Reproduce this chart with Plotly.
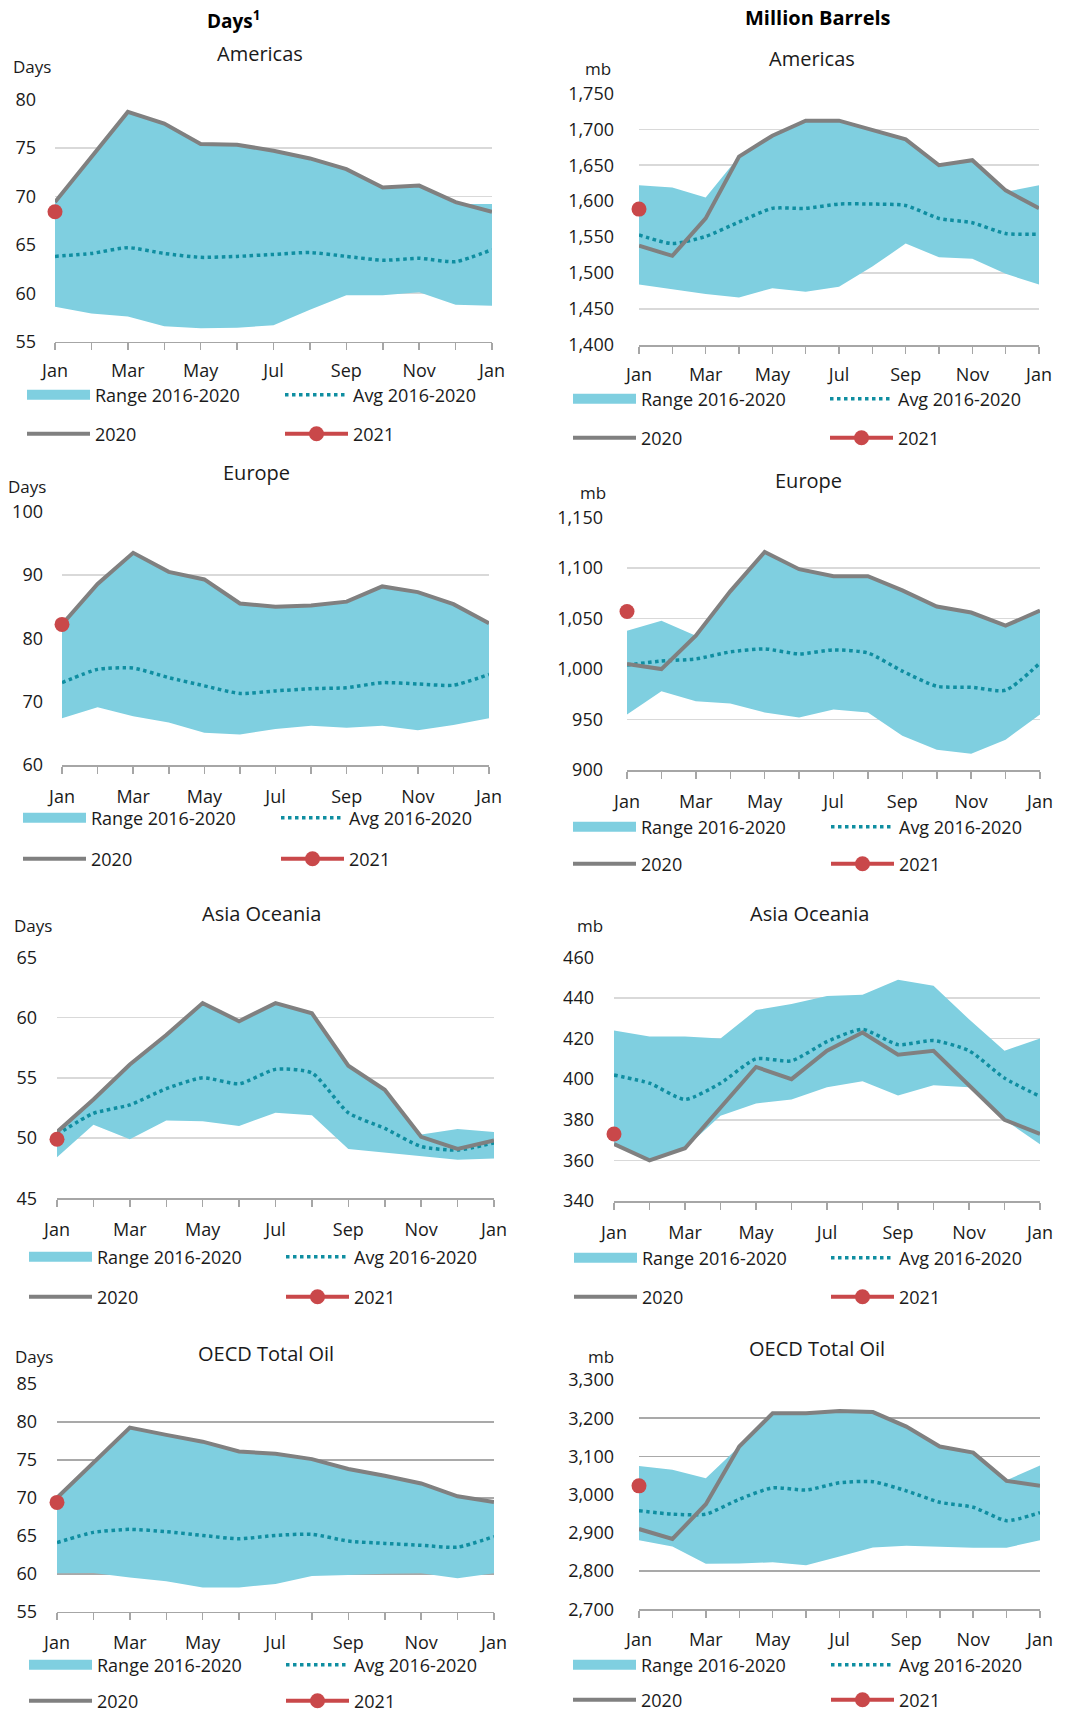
import plotly.graph_objects as go

W, H = 1075, 1712

months = ["Jan", "Feb", "Mar", "Apr", "May", "Jun", "Jul", "Aug", "Sep", "Oct", "Nov", "Dec", "Jan"]

# ---- Days: Americas ----
am_days_hi = [69.4, 74.1, 78.7, 77.5, 75.4, 75.3, 74.7, 73.9, 72.8, 70.9, 71.1, 69.2, 69.2]
am_days_lo = [58.6, 57.9, 57.6, 56.6, 56.4, 56.45, 56.7, 58.3, 59.8, 59.8, 60.1, 58.8, 58.7]
am_days_avg = [63.8, 64.1, 64.7, 64.1, 63.7, 63.8, 64.0, 64.2, 63.8, 63.4, 63.6, 63.25, 64.5]
am_days_2020 = [69.4, 74.1, 78.7, 77.5, 75.4, 75.3, 74.7, 73.9, 72.8, 70.9, 71.1, 69.4, 68.4]
am_days_2021 = [68.4]

# ---- mb: Americas ----
am_mb_hi = [1622, 1619, 1605, 1662, 1691, 1712, 1712, 1699, 1686, 1650, 1657, 1613, 1622]
am_mb_lo = [1484, 1477, 1471, 1466, 1479, 1474, 1481, 1509, 1541, 1522, 1520, 1499, 1484]
am_mb_avg = [1553, 1541, 1551, 1571, 1590, 1590, 1596, 1596, 1594, 1576, 1570, 1555, 1554]
am_mb_2020 = [1538, 1524, 1576, 1662, 1691, 1712, 1712, 1699, 1686, 1650, 1657, 1615, 1590]
am_mb_2021 = [1589]

# ---- Days: Europe ----
eu_days_hi = [82.2, 88.6, 93.5, 90.5, 89.3, 85.5, 85.0, 85.2, 85.8, 88.2, 87.3, 85.4, 82.4]
eu_days_lo = [67.4, 69.1, 67.7, 66.7, 65.1, 64.8, 65.7, 66.2, 65.9, 66.2, 65.5, 66.3, 67.4]
eu_days_avg = [73.0, 75.1, 75.3, 73.8, 72.5, 71.3, 71.7, 72.05, 72.2, 73.0, 72.8, 72.6, 74.3]
eu_days_2020 = [82.2, 88.6, 93.5, 90.5, 89.3, 85.5, 85.0, 85.2, 85.8, 88.2, 87.3, 85.4, 82.4]
eu_days_2021 = [82.2]

# ---- mb: Europe ----
eu_mb_hi = [1038, 1048, 1033, 1077, 1116, 1099, 1092, 1092, 1078, 1062, 1056, 1043, 1058]
eu_mb_lo = [955, 978, 968, 966, 957, 952, 960, 957, 934, 920, 916, 930, 955]
eu_mb_avg = [1004, 1008, 1010, 1017, 1020, 1015, 1019, 1016, 998, 983, 982, 979, 1006]
eu_mb_2020 = [1005, 1000, 1033, 1077, 1116, 1099, 1092, 1092, 1078, 1062, 1056, 1043, 1058]
eu_mb_2021 = [1057]

# ---- Days: Asia Oceania ----
as_days_hi = [50.5, 53.2, 56.1, 58.55, 61.2, 59.7, 61.2, 60.35, 56.0, 54.0, 50.3, 50.75, 50.5]
as_days_lo = [48.4, 51.1, 49.9, 51.45, 51.4, 51.0, 52.1, 51.9, 49.1, 48.8, 48.5, 48.2, 48.3]
as_days_avg = [50.3, 52.05, 52.75, 54.1, 55.0, 54.5, 55.7, 55.4, 52.1, 50.8, 49.3, 49.0, 49.6]
as_days_2020 = [50.5, 53.2, 56.1, 58.55, 61.2, 59.7, 61.2, 60.35, 56.0, 54.0, 50.1, 49.1, 49.8]
as_days_2021 = [49.9]

# ---- mb: Asia Oceania ----
as_mb_hi = [424, 421, 421, 420, 434, 437, 441, 441.5, 449, 446, 429.5, 414, 420]
as_mb_lo = [368, 360, 366, 382, 388, 390, 396, 399, 392, 397, 396, 380, 368]
as_mb_avg = [402, 398, 390, 398, 410, 409, 418.5, 424.5, 417, 419, 414, 400.5, 391.5]
as_mb_2020 = [368, 360, 366, 386, 406, 400, 414, 423, 412, 414, 397, 380, 373]
as_mb_2021 = [373]

# ---- Days: OECD Total Oil ----
oe_days_hi = [70.0, 74.6, 79.25, 78.3, 77.4, 76.1, 75.8, 75.1, 73.8, 72.9, 71.9, 70.2, 69.3]
oe_days_lo = [60.05, 60.1, 59.5, 59.0, 58.2, 58.2, 58.65, 59.7, 59.85, 60.0, 60.05, 59.4, 60.05]
oe_days_avg = [64.1, 65.45, 65.85, 65.55, 65.05, 64.6, 65.05, 65.2, 64.3, 64.0, 63.75, 63.5, 64.9]
oe_days_2020 = [70.0, 74.6, 79.25, 78.3, 77.4, 76.1, 75.8, 75.1, 73.8, 72.9, 71.9, 70.2, 69.45]
oe_days_2021 = [69.4]

# ---- mb: OECD Total Oil ----
oe_mb_hi = [3075, 3065, 3043, 3126, 3213, 3213, 3219, 3216, 3178, 3126, 3110, 3038, 3076]
oe_mb_lo = [2881, 2864, 2819, 2820, 2823, 2815, 2838, 2862, 2866, 2863, 2861, 2861, 2881]
oe_mb_avg = [2958, 2949, 2949, 2988, 3018, 3012, 3031, 3034, 3010, 2980, 2967, 2932, 2953]
oe_mb_2020 = [2910, 2884, 2975, 3126, 3213, 3213, 3219, 3216, 3178, 3126, 3110, 3036, 3023]
oe_mb_2021 = [3023]

FONT = "Open Sans"
TXT = "#1a1a1a"
C_RANGE = "#7fcfe0"
C_AVG = "#0f8ea1"
C_2020 = "#808080"
C_2021 = "#c9484a"
GRID_LIGHT = "#d9d9d9"
GRID_DARK = "#a9a9a9"

panels = [
    dict(title="Americas", unit="Days", hi=am_days_hi, lo=am_days_lo, avg=am_days_avg, y20=am_days_2020, y21=am_days_2021,
         yr=[55, 80], dt=5, fmt="", box=(55, 492, 99.3, 341.7), title_xy=(260, 53), unit_xy=(32, 67),
         leg=(27, 285, 395, 434), so=18, xso=5, grid=GRID_LIGHT),
    dict(title="Americas", unit="mb", hi=am_mb_hi, lo=am_mb_lo, avg=am_mb_avg, y20=am_mb_2020, y21=am_mb_2021,
         yr=[1400, 1750], dt=50, fmt=",", box=(639, 1039, 93.3, 345), title_xy=(812, 59), unit_xy=(598, 68),
         leg=(573, 830, 399, 438), so=24, xso=6, grid=GRID_LIGHT),
    dict(title="Europe", unit="Days", hi=eu_days_hi, lo=eu_days_lo, avg=eu_days_avg, y20=eu_days_2020, y21=eu_days_2021,
         yr=[60, 100], dt=10, fmt="", box=(62, 489, 511.7, 765), title_xy=(256, 473), unit_xy=(27, 486),
         leg=(23, 281, 818, 859), so=18, xso=8, grid=GRID_LIGHT),
    dict(title="Europe", unit="mb", hi=eu_mb_hi, lo=eu_mb_lo, avg=eu_mb_avg, y20=eu_mb_2020, y21=eu_mb_2021,
         yr=[900, 1150], dt=50, fmt=",", box=(627, 1040, 517.7, 770), title_xy=(808, 480), unit_xy=(593, 492),
         leg=(573, 831, 827, 864), so=23, xso=8, grid=GRID_LIGHT),
    dict(title="Asia Oceania", unit="Days", hi=as_days_hi, lo=as_days_lo, avg=as_days_avg, y20=as_days_2020, y21=as_days_2021,
         yr=[45, 65], dt=5, fmt="", box=(57, 494, 957.3, 1198.3), title_xy=(261, 913), unit_xy=(33, 925),
         leg=(29, 286, 1257, 1297), so=19, xso=8, grid=GRID_LIGHT),
    dict(title="Asia Oceania", unit="mb", hi=as_mb_hi, lo=as_mb_lo, avg=as_mb_avg, y20=as_mb_2020, y21=as_mb_2021,
         yr=[340, 460], dt=20, fmt="", box=(614, 1040, 957.3, 1201), title_xy=(809, 913), unit_xy=(590, 925),
         leg=(574, 831, 1258, 1297), so=19, xso=8, grid=GRID_LIGHT),
    dict(title="OECD Total Oil", unit="Days", hi=oe_days_hi, lo=oe_days_lo, avg=oe_days_avg, y20=oe_days_2020, y21=oe_days_2021,
         yr=[55, 85], dt=5, fmt="", box=(57, 494, 1384, 1611.7), title_xy=(266, 1353), unit_xy=(34, 1356),
         leg=(29, 286, 1665, 1701), so=19, xso=7, grid=GRID_DARK),
    dict(title="OECD Total Oil", unit="mb", hi=oe_mb_hi, lo=oe_mb_lo, avg=oe_mb_avg, y20=oe_mb_2020, y21=oe_mb_2021,
         yr=[2700, 3300], dt=100, fmt=",", box=(639, 1040, 1380, 1609.3), title_xy=(817, 1348), unit_xy=(601, 1356),
         leg=(573, 831, 1665, 1700), so=24, xso=7, grid=GRID_DARK),
]


def fx(px):
    return px / W


def fy(py):
    return 1 - py / H


fig = go.Figure()
annotations = []
layout = dict(
    template="none",
    width=W, height=H, margin=dict(l=0, r=0, t=0, b=0, autoexpand=False),
    paper_bgcolor="white", plot_bgcolor="white",
    font=dict(family=FONT, size=18, color=TXT),
    showlegend=True,
)

x = list(range(len(months)))
major_vals = x[::2]
major_text = months[::2]
ITEM_W = 63

for i, p in enumerate(panels):
    n = i + 1
    xa = "x" if n == 1 else f"x{n}"
    ya = "y" if n == 1 else f"y{n}"
    xk = "xaxis" if n == 1 else f"xaxis{n}"
    yk = "yaxis" if n == 1 else f"yaxis{n}"
    l1 = "legend" if i == 0 else f"legend{2 * i + 1}"
    l2 = f"legend{2 * i + 2}"
    x0, x1, ytop, ybot = p["box"]

    layout[xk] = dict(
        domain=[fx(x0), fx(x1)], anchor=ya, range=[0, 12], automargin=False,
        tickmode="array", tickvals=major_vals, ticktext=major_text,
        ticks="outside", ticklen=7, tickwidth=1.5, tickcolor="#a6a6a6",
        minor=dict(dtick=1, tick0=0, ticks="outside", ticklen=7, tickwidth=1.5, tickcolor="#a6a6a6", showgrid=False),
        showline=True, linecolor="#a6a6a6", linewidth=1.5,
        showgrid=False, zeroline=False, ticklabelstandoff=p["xso"],
        tickfont=dict(size=18, color=TXT, family=FONT),
        fixedrange=True,
    )
    layout[yk] = dict(
        domain=[fy(ybot), fy(ytop)], anchor=xa, range=p["yr"], dtick=p["dt"], tick0=p["yr"][0],
        tickmode="linear", automargin=False,
        tickformat=p["fmt"], showgrid=True, gridcolor=p["grid"], gridwidth=1.5,
        showline=False, zeroline=False, ticks="", ticklabelstandoff=p["so"],
        tickfont=dict(size=18, color=TXT, family=FONT), fixedrange=True,
    )

    # Range band (drawn), legend glyph via a legend-only line entry
    fig.add_trace(go.Scatter(x=x, y=p["lo"], xaxis=xa, yaxis=ya, mode="lines",
                             line=dict(width=0, color=C_RANGE), showlegend=False, hoverinfo="skip",
                             legend=l1))
    fig.add_trace(go.Scatter(x=x, y=p["hi"], xaxis=xa, yaxis=ya, mode="lines", fill="tonexty",
                             fillcolor=C_RANGE, line=dict(width=0, color=C_RANGE),
                             showlegend=False, legendgroup=f"rng{n}", legend=l1))
    fig.add_trace(go.Scatter(x=[None], y=[None], xaxis=xa, yaxis=ya, mode="lines",
                             line=dict(width=13, color=C_RANGE), legendgroup=f"rng{n}",
                             name="Range 2016-2020", legend=l1))
    # Avg
    fig.add_trace(go.Scatter(x=x, y=p["avg"], xaxis=xa, yaxis=ya, mode="lines",
                             line=dict(color=C_AVG, width=3.5, dash="dot", shape="spline", smoothing=0.6),
                             name="Avg 2016-2020", legend=l1))
    # 2020
    fig.add_trace(go.Scatter(x=x, y=p["y20"], xaxis=xa, yaxis=ya, mode="lines",
                             line=dict(color=C_2020, width=4),
                             name="2020", legend=l2))
    # 2021
    fig.add_trace(go.Scatter(x=x[:len(p["y21"])], y=p["y21"], xaxis=xa, yaxis=ya, mode="lines+markers",
                             line=dict(color=C_2021, width=4), marker=dict(color=C_2021, size=15),
                             cliponaxis=False, name="2021", legend=l2))

    s1, s2, r1, r2 = p["leg"]
    for lid, ry in ((l1, r1), (l2, r2)):
        layout[lid] = dict(
            orientation="h", x=fx(s1 - 5), xanchor="left", y=fy(ry), yanchor="middle",
            itemwidth=ITEM_W, entrywidth=s2 - s1 - ITEM_W - 15, entrywidthmode="pixels",
            font=dict(size=18, color=TXT, family=FONT), bgcolor="rgba(0,0,0,0)",
            borderwidth=0, traceorder="normal", itemclick=False, itemdoubleclick=False,
            groupclick="toggleitem", tracegroupgap=0,
        )

    annotations.append(dict(text=p["title"], x=fx(p["title_xy"][0]), y=fy(p["title_xy"][1]),
                            xref="paper", yref="paper", xanchor="center", yanchor="middle",
                            showarrow=False, font=dict(size=20, color=TXT, family=FONT)))
    annotations.append(dict(text=p["unit"], x=fx(p["unit_xy"][0]), y=fy(p["unit_xy"][1]),
                            xref="paper", yref="paper", xanchor="center", yanchor="middle",
                            showarrow=False, font=dict(size=17, color=TXT, family=FONT)))

annotations.append(dict(text="<b>Days<sup>1</sup></b>", x=fx(233), y=fy(20), xref="paper", yref="paper",
                        xanchor="center", yanchor="middle", showarrow=False,
                        font=dict(size=19, color="#000", family=FONT)))
annotations.append(dict(text="<b>Million Barrels</b>", x=fx(818), y=fy(18), xref="paper", yref="paper",
                        xanchor="center", yanchor="middle", showarrow=False,
                        font=dict(size=20, color="#000", family=FONT)))
layout["annotations"] = annotations

fig.update_layout(**layout)
fig.write_html("out.html", post_script="document.body.style.margin='0';",
               config={"displayModeBar": False, "staticPlot": True})
